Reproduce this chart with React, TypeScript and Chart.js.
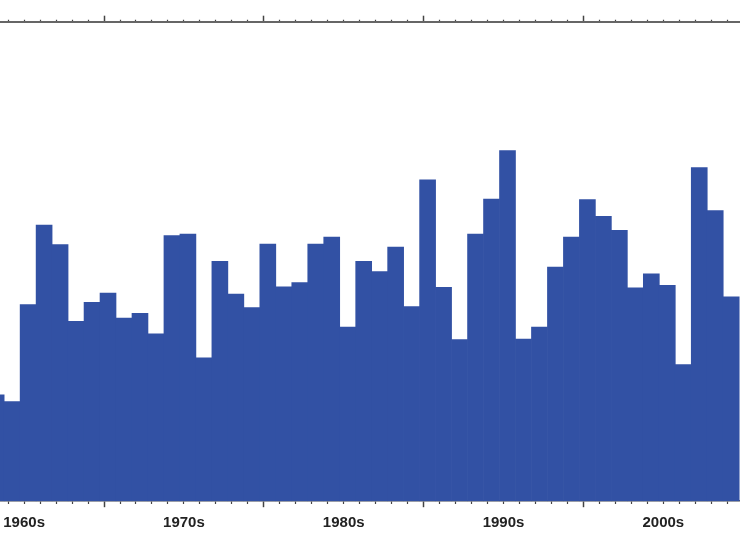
import React, { useEffect, useRef } from "react";
import { Chart, registerables } from "chart.js";

Chart.register(...registerables);

const years = [
  1963, 1964, 1965, 1966, 1967, 1968, 1969, 1970, 1971, 1972, 1973, 1974,
  1975, 1976, 1977, 1978, 1979, 1980, 1981, 1982, 1983, 1984, 1985, 1986,
  1987, 1988, 1989, 1990, 1991, 1992, 1993, 1994, 1995, 1996, 1997, 1998,
  1999, 2000, 2001, 2002, 2003, 2004, 2005, 2006, 2007, 2008, 2009,
];

const values = [
  22.2, 20.8, 41.0, 57.6, 53.5, 37.5, 41.5, 43.4, 38.2, 39.2, 34.9, 55.4,
  55.7, 29.9, 50.0, 43.2, 40.4, 53.6, 44.7, 45.6, 53.6, 55.1, 36.3, 50.0,
  47.9, 53.0, 40.6, 67.0, 44.6, 33.7, 55.7, 63.0, 73.1, 33.8, 36.3, 48.8,
  55.1, 62.9, 59.4, 56.5, 44.5, 47.4, 45.0, 28.5, 69.6, 60.6, 42.6,
];

const decadeStarts = [1960, 1970, 1980, 1990, 2000];
const decadeLabels = ["1960s", "1970s", "1980s", "1990s", "2000s"];

const X_MIN = 1963.24;
const X_MAX = 2009.55;
const TICK_SHIFT = 0.25;
const LABEL_SHIFT = 4.75;

const BAR_COLOR = "#3251a4";

function yearTicks() {
  const out: { value: number }[] = [];
  for (let y = 1960; y <= 2012; y++) {
    const v = y - TICK_SHIFT;
    if (v >= X_MIN && v <= X_MAX) out.push({ value: v });
  }
  return out;
}

function isMajor(v: number) {
  const y = Math.round(v + TICK_SHIFT);
  return y % 10 === 0;
}

export default function App() {
  const ref = useRef<HTMLCanvasElement | null>(null);

  useEffect(() => {
    if (!ref.current) return;
    const chart = new Chart(ref.current, {
      type: "bar",
      data: {
        datasets: [
          {
            data: years.map((x, i) => ({ x, y: values[i] })),
            backgroundColor: BAR_COLOR,
            borderWidth: 0,
            barPercentage: 1,
            categoryPercentage: 1,
            xAxisID: "x",
            yAxisID: "y",
          },
        ],
      },
      options: {
        animation: false,
        responsive: true,
        maintainAspectRatio: false,
        layout: { padding: { top: 15.7, bottom: 13.8, left: 0, right: 0 } },
        plugins: { legend: { display: false }, tooltip: { enabled: false } },
        scales: {
          x: {
            type: "linear",
            position: "bottom",
            min: X_MIN,
            max: X_MAX,
            offset: false,
            weight: 0,
            afterBuildTicks: (scale: any) => {
              scale.ticks = yearTicks();
            },
            ticks: { display: false },
            grid: {
              offset: false,
              drawOnChartArea: false,
              drawTicks: true,
              tickLength: 6,
              tickColor: "#444",
              tickWidth: (ctx: any) => (ctx.tick && isMajor(ctx.tick.value) ? 1.5 : 1.2),
              tickBorderDash: (ctx: any) =>
                ctx.tick && isMajor(ctx.tick.value) ? [] : [2.5, 100],
            },
            border: { display: true, color: "#555", width: 1.5 },
          },
          xLab: {
            type: "linear",
            position: "bottom",
            axis: "x",
            min: X_MIN,
            max: X_MAX,
            offset: false,
            weight: 1,
            afterBuildTicks: (scale: any) => {
              scale.ticks = decadeStarts.map((d) => ({ value: d + LABEL_SHIFT }));
            },
            ticks: {
              autoSkip: false,
              maxRotation: 0,
              padding: 0,
              color: "#222",
              font: { family: "'Liberation Sans', Arial, sans-serif", size: 15, weight: "bold" },
              callback: (_v: any, i: number) => decadeLabels[i],
            },
            grid: {
              display: true,
              offset: false,
              drawOnChartArea: false,
              drawTicks: true,
              tickLength: 7,
              tickColor: "rgba(0,0,0,0)",
              color: "rgba(0,0,0,0)",
            },
            border: { display: false },
          },
          xTop: {
            type: "linear",
            position: "top",
            axis: "x",
            min: X_MIN,
            max: X_MAX,
            offset: false,
            afterBuildTicks: (scale: any) => {
              scale.ticks = yearTicks();
            },
            ticks: { display: false },
            grid: {
              offset: false,
              drawOnChartArea: false,
              drawTicks: true,
              tickLength: 6,
              tickColor: "#444",
              tickWidth: (ctx: any) => (ctx.tick && isMajor(ctx.tick.value) ? 1.5 : 1.2),
              tickBorderDash: (ctx: any) =>
                ctx.tick && isMajor(ctx.tick.value) ? [] : [0, 4, 2, 100],
            },
            border: { display: true, color: "#666", width: 2 },
          },
          y: {
            type: "linear",
            display: false,
            min: 0,
            max: 100,
          },
        },
      } as any,
    });
    return () => chart.destroy();
  }, []);

  return (
    <div
      style={{
        position: "fixed",
        left: 0,
        top: 0,
        width: 740,
        height: 546,
        background: "#fff",
      }}
    >
      <canvas ref={ref} />
    </div>
  );
}
